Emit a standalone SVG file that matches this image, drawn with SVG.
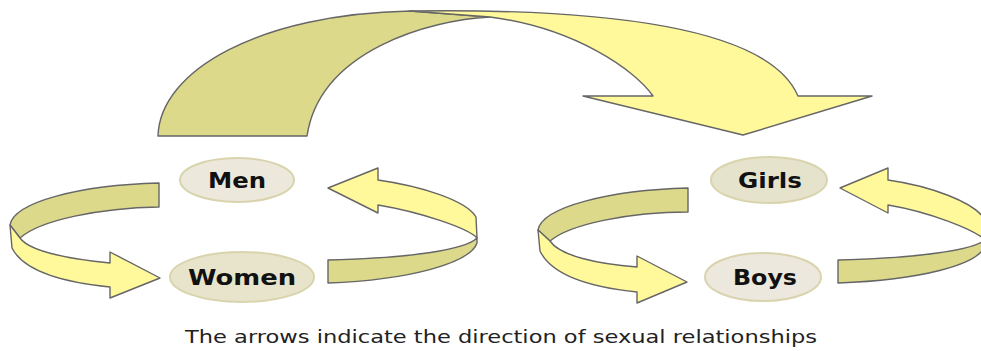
<svg xmlns="http://www.w3.org/2000/svg" width="981" height="351" viewBox="0 0 981 351">
<style>
.dark{fill:#dcd98a;stroke:#666;stroke-width:1.4;stroke-linejoin:round}
.light{fill:#fff99c;stroke:#666;stroke-width:1.4;stroke-linejoin:round}
.node ellipse{stroke:#d9d4ad;stroke-width:2}
.node text{font-family:"DejaVu Sans","Liberation Sans",sans-serif;font-weight:bold;font-size:22px;fill:#111;text-anchor:middle}
.cap{font-family:"DejaVu Sans","Liberation Sans",sans-serif;font-size:18px;fill:#222}
</style>
<rect width="981" height="351" fill="#fff"/>
<g id="connectors">
  <!-- big top arrow -->
  <path class="dark" d="M158,136 C160,70 260,14 410,11 L490,17 C430,20 320,50 307,136 Z"/>
  <path class="light" d="M410,11 C620,8 770,30 798,96 L872,96 L743,135 L583,96 L653,96 C635,70 575,28 490,17 Z"/>
  <!-- left cluster: Men -> Women -->
  <path class="dark" d="M159,183 C80,185 14,202 10,225 L20,238 C40,220 100,208 159,207 Z"/>
  <path class="light" d="M10,225 L12,248 C25,274 70,283 110,287 L110,298 L160,278 L110,252 L110,263 C70,259 30,252 20,238 Z"/>
  <!-- left cluster: Women -> Men -->
  <path class="light" d="M378,180 C420,186 466,200 476,217 L477,238 C468,228 420,212 378,205 L378,213 L328,188 L378,168 Z"/>
  <path class="dark" d="M328,260 C410,258 465,250 477,238 L477,243 C470,263 410,280 328,283 Z"/>
  <!-- right cluster: Girls -> Boys -->
  <path class="dark" d="M688,188 C610,190 542,207 538,230 L550,241 C570,224 630,212 688,212 Z"/>
  <path class="light" d="M538,230 L540,251 C553,278 598,288 637,292 L637,303 L687,282 L637,256 L637,267 C598,264 560,256 550,241 Z"/>
  <!-- right cluster: Boys -> Girls -->
  <path class="light" d="M888,180 C930,186 975,202 985,220 L985,240 C975,230 930,212 888,205 L888,213 L840,188 L888,168 Z"/>
  <path class="dark" d="M838,260 C920,258 972,250 985,240 L985,246 C978,265 920,280 838,283 Z"/>
</g>
<g id="men" class="node">
  <ellipse cx="237" cy="180" rx="57" ry="22" fill="#ece8dc"/>
  <text x="237" y="188" textLength="58" lengthAdjust="spacingAndGlyphs">Men</text>
</g>
<g id="women" class="node">
  <ellipse cx="242" cy="277" rx="72" ry="25" fill="#e7e4cb"/>
  <text x="242" y="285" textLength="108" lengthAdjust="spacingAndGlyphs">Women</text>
</g>
<g id="girls" class="node">
  <ellipse cx="769" cy="180" rx="58" ry="23" fill="#e6e3cd"/>
  <text x="770" y="188" textLength="64" lengthAdjust="spacingAndGlyphs">Girls</text>
</g>
<g id="boys" class="node">
  <ellipse cx="763" cy="277" rx="58" ry="24" fill="#ece8de"/>
  <text x="765" y="285" textLength="64" lengthAdjust="spacingAndGlyphs">Boys</text>
</g>
<text class="cap" x="185" y="343" textLength="632" lengthAdjust="spacingAndGlyphs">The arrows indicate the direction of sexual relationships</text>
</svg>
